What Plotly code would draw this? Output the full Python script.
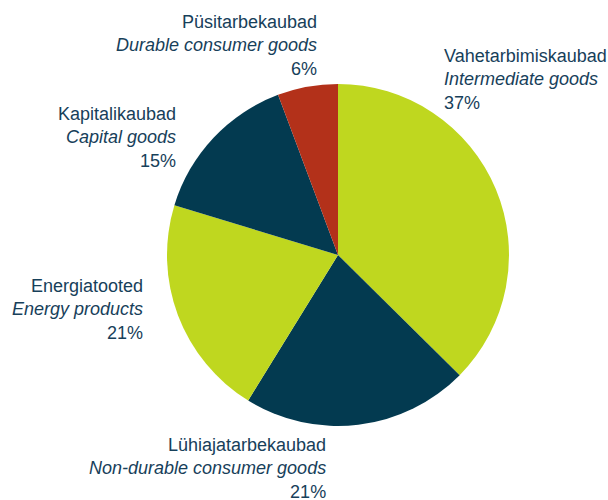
import plotly.graph_objects as go

labels_et = ["Vahetarbimiskaubad", "Lühiajatarbekaubad", "Energiatooted", "Kapitalikaubad", "Püsitarbekaubad"]
labels_en = ["Intermediate goods", "Non-durable consumer goods", "Energy products", "Capital goods", "Durable consumer goods"]
# shares estimated from slice geometry; labels show rounded percent
shares = [37.4, 21.4, 20.9, 14.6, 5.7]
colors = ["#BFD71F", "#033A50", "#BFD71F", "#033A50", "#B3311A"]

W, H = 608, 500
# label block anchor positions (px) and alignment
label_pos = [(442, 79, "left"), (328, 468, "right"), (145, 309, "right"), (178, 137, "right"), (319, 46, "right")]

cx, cy, r = 338, 255, 171

fig = go.Figure(go.Pie(
    labels=labels_et,
    values=shares,
    sort=False,
    direction="clockwise",
    rotation=0,
    marker=dict(colors=colors, line=dict(width=0)),
    textinfo="none",
    hoverinfo="label+percent",
    showlegend=False,
    domain=dict(x=[(cx - r) / W, (cx + r) / W], y=[1 - (cy + r) / H, 1 - (cy - r) / H]),
))

total = sum(shares)
annotations = []
for et, en, v, (px, py, al) in zip(labels_et, labels_en, shares, label_pos):
    annotations.append(dict(
        text=f"{et}<br><i>{en}</i><br>{round(100 * v / total)}%",
        x=px / W, y=1 - py / H, xref="paper", yref="paper",
        xanchor=al, yanchor="middle", align=al, showarrow=False,
        font=dict(family="Liberation Sans, Arial, sans-serif", size=18, color="#17405A"),
    ))

fig.update_layout(
    width=W, height=H,
    margin=dict(l=0, r=0, t=0, b=0),
    paper_bgcolor="white", plot_bgcolor="white",
    annotations=annotations,
)
fig.write_html(
    "out.html",
    config={"displayModeBar": False},
    post_script="document.body.style.margin='0';document.body.style.padding='0';",
)
